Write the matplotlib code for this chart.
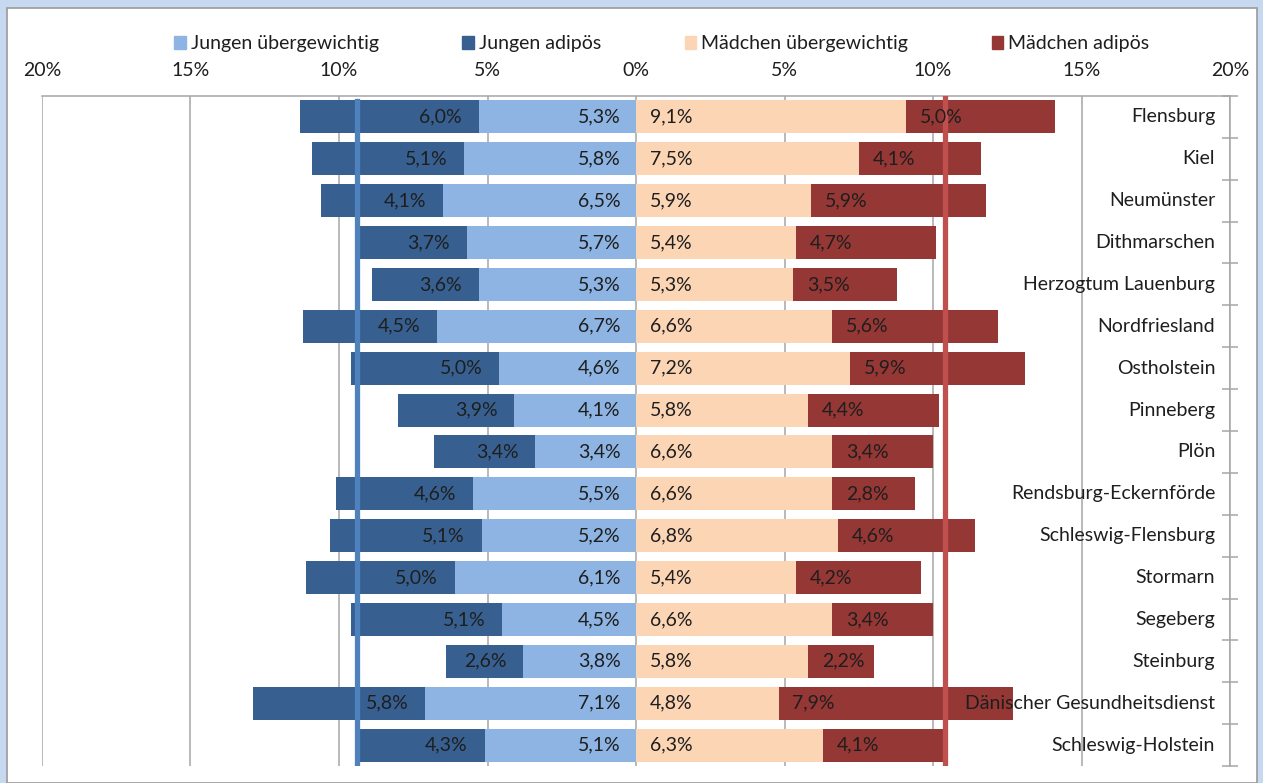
import numpy as np
import matplotlib.pyplot as plt
from matplotlib.patches import Rectangle, Patch

plt.rcParams['font.family'] = ['Lato', 'DejaVu Sans']

kreise = ['Flensburg', 'Kiel', 'Neumünster', 'Dithmarschen', 'Herzogtum Lauenburg',
          'Nordfriesland', 'Ostholstein', 'Pinneberg', 'Plön', 'Rendsburg-Eckernförde',
          'Schleswig-Flensburg', 'Stormarn', 'Segeberg', 'Steinburg',
          'Dänischer Gesundheitsdienst', 'Schleswig-Holstein']
jungen_ueber = [5.3, 5.8, 6.5, 5.7, 5.3, 6.7, 4.6, 4.1, 3.4, 5.5, 5.2, 6.1, 4.5, 3.8, 7.1, 5.1]
jungen_adip = [6.0, 5.1, 4.1, 3.7, 3.6, 4.5, 5.0, 3.9, 3.4, 4.6, 5.1, 5.0, 5.1, 2.6, 5.8, 4.3]
maedchen_ueber = [9.1, 7.5, 5.9, 5.4, 5.3, 6.6, 7.2, 5.8, 6.6, 6.6, 6.8, 5.4, 6.6, 5.8, 4.8, 6.3]
maedchen_adip = [5.0, 4.1, 5.9, 4.7, 3.5, 5.6, 5.9, 4.4, 3.4, 2.8, 4.6, 4.2, 3.4, 2.2, 7.9, 4.1]
ticks = [-20, -15, -10, -5, 0, 5, 10, 15, 20]

c_ju = '#8DB4E2'
c_ja = '#376091'
c_mu = '#FCD5B5'
c_ma = '#953735'
grid_c = '#A6A6A6'
txt_c = '#1E1E1E'
fs = 14

ju = np.array(jungen_ueber)
ja = np.array(jungen_adip)
mu = np.array(maedchen_ueber)
ma = np.array(maedchen_adip)
y = np.arange(len(kreise))

W, H = 1263, 783
fig = plt.figure(figsize=(W / 100, H / 100), dpi=100)
fig.patch.set_facecolor('#C6D9F1')
# white chart area with thin grey frame
fig.patches.append(Rectangle((7 / W, 0), 1250 / W, 1 - 8 / H, transform=fig.transFigure,
                             facecolor='white', edgecolor='#9A9A9A', lw=1.2, zorder=-5))

ax = fig.add_axes([42 / W, 1 - 766 / H, (1230 - 42) / W, (766 - 96) / H])
ax.set_facecolor('none')
ax.set_zorder(2)

bh = 0.79
ax.barh(y, -ju, height=bh, color=c_ju, zorder=2)
ax.barh(y, -ja, left=-ju, height=bh, color=c_ja, zorder=2)
ax.barh(y, mu, height=bh, color=c_mu, zorder=2)
ax.barh(y, ma, left=mu, height=bh, color=c_ma, zorder=2)

def fmt(v):
    return f'{v:.1f}%'.replace('.', ',')

lab = dict(va='center', fontsize=fs, color=txt_c, zorder=5, textcoords='offset points')
for i in y:
    ax.annotate(fmt(ju[i]), (0, i), xytext=(-11, 0), ha='right', **lab)
    ax.annotate(fmt(ja[i]), (-ju[i], i), xytext=(-12, 0), ha='right', **lab)
    ax.annotate(fmt(mu[i]), (0, i), xytext=(10, 0), ha='left', **lab)
    ax.annotate(fmt(ma[i]), (mu[i], i), xytext=(10, 0), ha='left', **lab)
    ax.text(19.5, i, kreise[i], ha='right', va='center', fontsize=fs, color=txt_c, zorder=6)

# Landesdurchschnitt (Schleswig-Holstein) als senkrechte Linien
ax.axvline(-(ju[-1] + ja[-1]), ymin=0, ymax=0.993, color='#4F81BD', lw=3.8, zorder=4)
ax.axvline(mu[-1] + ma[-1], ymin=0, ymax=1.0, color='#C0504D', lw=3.8, zorder=4)

ax.set_xlim(-20, 20)
ax.set_ylim(len(kreise) - 0.5, -0.5)
for t in ticks:
    ax.axvline(t, color=grid_c, lw=1.1, zorder=1)

ax.xaxis.tick_top()
ax.set_xticks(ticks)
ax.set_xticklabels([f'{abs(t)}%' for t in ticks], fontsize=fs, color=txt_c)
ax.tick_params(axis='x', length=0, pad=12)

ax.set_yticks([])
ax.set_yticks(np.arange(len(kreise) + 1) - 0.5, minor=True)
ax.yaxis.tick_right()
ax.tick_params(axis='y', which='minor', direction='inout', length=12, color=grid_c, width=1.1)
ax.set_yticklabels([], minor=True)

for s in ['left', 'bottom']:
    ax.spines[s].set_visible(False)
for s in ['top', 'right']:
    ax.spines[s].set_color(grid_c)
    ax.spines[s].set_linewidth(1.1)

handles = [Patch(color=c_ju), Patch(color=c_ja), Patch(color=c_mu), Patch(color=c_ma)]
names = ['Jungen übergewichtig', 'Jungen adipös', 'Mädchen übergewichtig', 'Mädchen adipös']
leg = fig.legend(handles, names, ncol=4, loc='center', bbox_to_anchor=(0.524, 1 - 44 / H),
                 frameon=False, fontsize=fs, handlelength=0.6, handleheight=0.6,
                 handletextpad=0.25, columnspacing=4.3)
for t in leg.get_texts():
    t.set_color(txt_c)

fig.savefig('out.png', dpi=100, facecolor=fig.get_facecolor())
